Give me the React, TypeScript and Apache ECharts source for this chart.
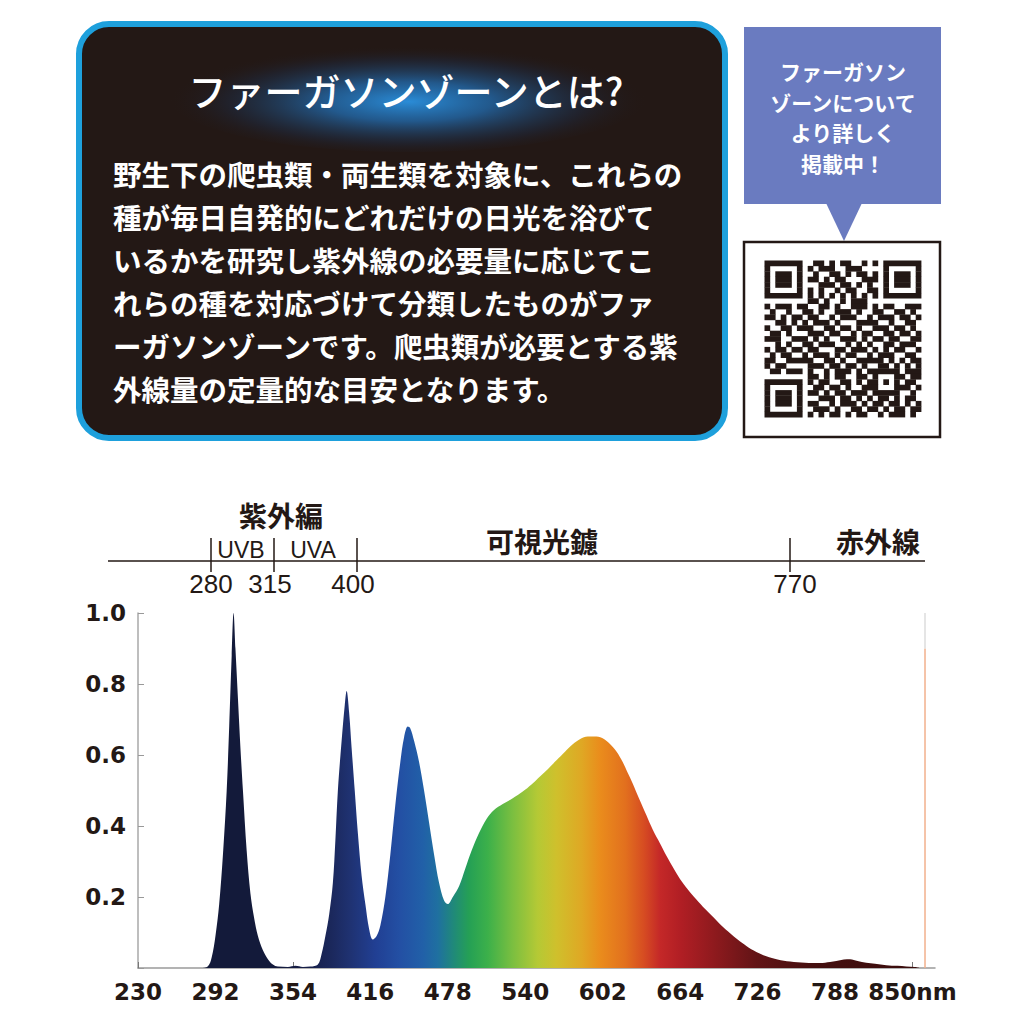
import React, { useEffect, useRef } from "react";
import * as echarts from "echarts";

// ---------- DATA ----------
// Spectrum: [wavelength nm, relative intensity]
const spectrum: [number, number][] = [
  [230, 0], [280, 0], [286, 0.005], [289, 0.03], [292, 0.09], [295, 0.18], [298, 0.32],
  [301, 0.5], [303, 0.68], [305, 0.88], [306.5, 1.0], [308, 0.9], [310, 0.76], [312, 0.62],
  [314, 0.5], [317, 0.33], [320, 0.21], [323, 0.14], [326, 0.09], [330, 0.05], [334, 0.025],
  [338, 0.01], [342, 0.004], [350, 0.003], [356, 0.006], [362, 0.003], [368, 0.004],
  [374, 0.01], [377, 0.04], [380, 0.09], [383, 0.15], [386, 0.24], [388, 0.36], [390, 0.5],
  [393, 0.64], [395.5, 0.74], [397, 0.78], [399, 0.72], [401, 0.62], [403.5, 0.5], [406, 0.38],
  [409, 0.26], [412, 0.18], [415, 0.11], [418, 0.08], [421, 0.09], [424, 0.12], [428, 0.2],
  [432, 0.32], [436, 0.46], [440, 0.58], [443, 0.65], [446, 0.68], [448, 0.675], [451, 0.64],
  [455, 0.58], [459, 0.5], [463, 0.41], [467, 0.32], [471, 0.24], [475, 0.19], [478, 0.18],
  [482, 0.2], [487, 0.23], [492, 0.28], [497, 0.33], [503, 0.38], [509, 0.42], [515, 0.445],
  [522, 0.462], [530, 0.478], [538, 0.497], [545, 0.517], [552, 0.54], [558, 0.56], [565, 0.585],
  [572, 0.61], [578, 0.63], [584, 0.645], [590, 0.652], [597, 0.652], [603, 0.645], [608, 0.63],
  [613, 0.61], [618, 0.58], [622, 0.55], [626, 0.52], [631, 0.478], [637, 0.43], [642, 0.39],
  [648, 0.35], [653, 0.316], [658, 0.285], [664, 0.25], [670, 0.222], [677, 0.193], [684, 0.166],
  [690, 0.145], [697, 0.12], [704, 0.098], [710, 0.08], [717, 0.062], [725, 0.045], [733, 0.033],
  [742, 0.024], [752, 0.018], [764, 0.015], [776, 0.014], [784, 0.017], [789, 0.02], [795, 0.024],
  [800, 0.025], [806, 0.02], [813, 0.015], [820, 0.012], [829, 0.008], [838, 0.006], [845, 0.004],
  [852, 0.003], [856, 0],
];

// thin marker line at the right end of the plot
const markerWavelength = 860;
const markerLevels = [0, 0.9, 1.0];

// Axis settings
const xStart = 230;
const xStep = 62;
const xEnd = 868;
const yTicks = [0.2, 0.4, 0.6, 0.8, 1.0];

// Colour of the spectrum by wavelength
const colourStops: [number, string][] = [
  [230, "#131a3a"], [335, "#131a3a"], [365, "#161e48"], [385, "#1b285c"], [400, "#1f3272"],
  [420, "#213f93"], [440, "#2350a4"], [458, "#2160a8"], [470, "#1f70a0"], [483, "#208a78"],
  [495, "#25a055"], [510, "#3cb04a"], [530, "#7bbf40"], [550, "#b5c935"], [565, "#cfc02c"],
  [585, "#dfa824"], [600, "#ea8c1c"], [620, "#e2701e"], [635, "#d64c22"], [648, "#c42828"],
  [665, "#b01e24"], [690, "#901a1e"], [725, "#621416"], [770, "#451010"], [856, "#3a0c0c"],
];

// Header band
const bandTicks = ["280", "315", "400", "770"];
const bandNames = ["UVB", "UVA"];
const regionNames = ["紫外編", "可視光鑢", "赤外線"];

// Info box
const infoTitle = "ファーガソンゾーンとは?";
const infoLines = [
  "野生下の爬虫類・両生類を対象に、これらの",
  "種が毎日自発的にどれだけの日光を浴びて",
  "いるかを研究し紫外線の必要量に応じてこ",
  "れらの種を対応づけて分類したものがファ",
  "ーガソンゾーンです。爬虫類が必要とする紫",
  "外線量の定量的な目安となります。",
];
const calloutLines = ["ファーガソン", "ゾーンについて", "より詳しく", "掲載中！"];

// QR pattern
const finder = ["1111111", "1000001", "1011101", "1011101", "1011101", "1000001", "1111111"];
const qrTopMid = [
  "0110101100101", "1011100111000", "0100110101101", "1101011000111",
  "0011101101010", "1010010110011", "1010101010101",
];
const qrRow7 = "1101001011100";
const qrMidRows = [
  "10111 01100 11010 01110 10110 0111",
  "01001 00110 10011 10100 11001 1010",
  "11010 11011 00101 11001 01110 1101",
  "00110 10101 11010 00111 10010 0110",
  "10011 01110 01101 10100 11101 1010",
  "01101 00011 10110 01011 00110 1101",
  "11100 11101 01001 11010 11011 0011",
  "00101 00110 11100 10101 00110 1110",
  "10110 11011 00011 01110 10101 1001",
  "01011 00101 11010 11001 01110 0110",
  "11001 11110 01101 00111 11010 1011",
  "10110 00011 10110 11010 01101 0101",
  "01101 11010 01011 10101 11111 0111",
];
const qrBottomMid = [
  "110101100110" + "10001" + "1011",
  "101100110101" + "10101" + "0110",
  "011011010011" + "10001" + "1101",
  "110101101110" + "11111" + "0010",
  "001110110101" + "011010110",
  "110010111010" + "110110101",
  "011101001101" + "101011011",
  "101011010110" + "010111010",
];

function buildQrRows(): string[] {
  const rows: string[] = [];
  for (let i = 0; i < 7; i++) rows.push(finder[i] + "0" + qrTopMid[i] + "0" + finder[i]);
  rows.push("00000000" + qrRow7 + "00000000");
  qrMidRows.forEach((r) => rows.push(r.replace(/ /g, "")));
  rows.push("00000000" + qrBottomMid[0]);
  for (let i = 0; i < 7; i++) rows.push(finder[i] + "0" + qrBottomMid[i + 1]);
  return rows;
}

const INK = "#231815";
const JP = "'Noto Sans CJK JP', 'Noto Sans', sans-serif";

export default function App() {
  const ref = useRef<HTMLDivElement>(null);

  useEffect(() => {
    if (!ref.current) return;
    const chart = echarts.init(ref.current, undefined, { renderer: "svg" });

    const first = spectrum[0][0];
    const last = spectrum[spectrum.length - 1][0];
    const grad = new echarts.graphic.LinearGradient(
      0, 0, 1, 0,
      colourStops.map(([w, c]) => ({ offset: (w - first) / (last - first), color: c }))
    );

    const graphics: any[] = [];

    // ---- Info box ----
    graphics.push({
      type: "rect",
      shape: { x: 79, y: 24, width: 646, height: 414, r: 30 },
      style: { fill: "#231815", stroke: "#1ea0dc", lineWidth: 6 },
    });
    graphics.push({
      type: "ellipse",
      shape: { cx: 408, cy: 96, rx: 240, ry: 56 },
      style: {
        fill: new echarts.graphic.RadialGradient(0.5, 0.55, 0.5, [
          { offset: 0, color: "rgba(42,140,215,1)" },
          { offset: 0.35, color: "rgba(34,105,170,0.8)" },
          { offset: 0.75, color: "rgba(30,45,70,0.45)" },
          { offset: 1, color: "rgba(35,24,21,0)" },
        ]),
      },
    });
    graphics.push({
      type: "text",
      x: 406,
      y: 89,
      style: {
        text: infoTitle, fill: "#ffffff", fontSize: 38, fontFamily: JP, fontWeight: 500,
        textAlign: "center", textVerticalAlign: "middle",
      },
    });
    infoLines.forEach((t, i) => {
      graphics.push({
        type: "text",
        x: 113,
        y: 173 + i * 43,
        style: {
          text: t, fill: "#ffffff", fontSize: 28.5, fontFamily: JP, fontWeight: "bold",
          textAlign: "left", textVerticalAlign: "middle",
        },
      });
    });

    // ---- Callout ----
    graphics.push({
      type: "rect",
      shape: { x: 744, y: 27, width: 197, height: 177 },
      style: { fill: "#6a7bc0" },
    });
    graphics.push({
      type: "polygon",
      shape: { points: [[826, 203], [862, 203], [844, 241]] },
      style: { fill: "#6a7bc0" },
    });
    calloutLines.forEach((t, i) => {
      graphics.push({
        type: "text",
        x: 843,
        y: 71 + i * 30.6,
        style: {
          text: t, fill: "#ffffff", fontSize: 21, fontFamily: JP, fontWeight: "bold",
          textAlign: "center", textVerticalAlign: "middle",
        },
      });
    });

    // ---- QR ----
    graphics.push({
      type: "rect",
      shape: { x: 744, y: 242, width: 196, height: 195 },
      style: { fill: "#ffffff", stroke: INK, lineWidth: 2.5 },
    });
    const qrRows = buildQrRows();
    const m = 5.4;
    const qx = 764.5;
    const qy = 260.5;
    qrRows.forEach((row, r) => {
      let c = 0;
      while (c < row.length) {
        if (row[c] === "1") {
          let e = c;
          while (e < row.length && row[e] === "1") e++;
          graphics.push({
            type: "rect",
            shape: { x: qx + c * m, y: qy + r * m, width: (e - c) * m + 0.3, height: m + 0.3 },
            style: { fill: INK },
          });
          c = e;
        } else c++;
      }
    });

    // ---- Header band ----
    const tickX = [211, 274, 357, 790];
    graphics.push({
      type: "line",
      shape: { x1: 108, y1: 561, x2: 925, y2: 561 },
      style: { stroke: INK, lineWidth: 1.5 },
    });
    bandTicks.forEach((t, i) => {
      graphics.push({
        type: "line",
        shape: { x1: tickX[i], y1: 538, x2: tickX[i], y2: 572 },
        style: { stroke: INK, lineWidth: 1.5 },
      });
      graphics.push({
        type: "text",
        x: tickX[i] + (i === 0 ? 0 : i === 3 ? 5 : -4),
        y: 584,
        style: {
          text: t, fill: INK, fontSize: 26, fontFamily: "'Liberation Sans', Arial, sans-serif",
          textAlign: "center", textVerticalAlign: "middle",
        },
      });
    });
    [241, 313].forEach((x, i) => {
      graphics.push({
        type: "text",
        x,
        y: 550,
        style: {
          text: bandNames[i], fill: INK, fontSize: 23, fontFamily: "'Liberation Sans', Arial, sans-serif",
          textAlign: "center", textVerticalAlign: "middle",
        },
      });
    });
    const regionPos = [[281, 515], [542, 541], [878, 541]];
    regionNames.forEach((t, i) => {
      graphics.push({
        type: "text",
        x: regionPos[i][0],
        y: regionPos[i][1],
        style: {
          text: t, fill: INK, fontSize: 28, fontFamily: JP, fontWeight: "bold",
          textAlign: "center", textVerticalAlign: "middle",
        },
      });
    });

    const labelFont = {
      color: INK,
      fontFamily: "'DejaVu Sans', sans-serif",
      fontWeight: "bold" as const,
      fontSize: 23,
    };

    chart.setOption({
      animation: false,
      backgroundColor: "#ffffff",
      grid: { left: 138, right: 89, top: 613, bottom: 56 },
      xAxis: {
        type: "value",
        min: 0,
        max: xEnd - xStart,
        interval: xStep,
        axisLine: { show: true, lineStyle: { color: "#9a9a9a", width: 1.5 } },
        axisTick: { show: true, inside: true, length: 6, lineStyle: { color: "#777777" } },
        splitLine: { show: false },
        axisLabel: {
          ...labelFont,
          margin: 12,
          showMaxLabel: false,
          formatter: (v: number) => {
            const w = Math.round(v + xStart);
            return w === 850 ? "850nm" : String(w);
          },
        },
      },
      yAxis: {
        type: "value",
        min: 0,
        max: 1,
        interval: 0.2,
        axisLine: { show: true, lineStyle: { color: "#a8a8a8", width: 1.5 } },
        axisTick: { show: true, inside: true, length: 6, lineStyle: { color: "#999999" } },
        splitLine: { show: false },
        axisLabel: {
          ...labelFont,
          margin: 12,
          formatter: (v: number) => {
            const hit = yTicks.find((t) => Math.abs(t - v) < 1e-6);
            return hit === undefined ? "" : hit.toFixed(1);
          },
        },
      },
      series: [
        {
          type: "line",
          data: spectrum.map(([w, v]) => [w - xStart, v]),
          smooth: 0.35,
          showSymbol: false,
          symbol: "none",
          lineStyle: { width: 0 },
          areaStyle: { color: grad, opacity: 1 },
          z: 2,
        },
        {
          type: "line",
          data: [[markerWavelength - xStart, markerLevels[0]], [markerWavelength - xStart, markerLevels[1]]],
          showSymbol: false,
          symbol: "none",
          lineStyle: { width: 1.5, color: "#f2b08c" },
          z: 3,
        },
        {
          type: "line",
          data: [[markerWavelength - xStart, markerLevels[1]], [markerWavelength - xStart, markerLevels[2]]],
          showSymbol: false,
          symbol: "none",
          lineStyle: { width: 1.5, color: "#dddddd" },
          z: 3,
        },
      ],
      graphic: graphics,
    });

    return () => chart.dispose();
  }, []);

  return (
    <div
      ref={ref}
      style={{ position: "absolute", left: 0, top: 0, width: 1024, height: 1024, background: "#fff" }}
    />
  );
}
